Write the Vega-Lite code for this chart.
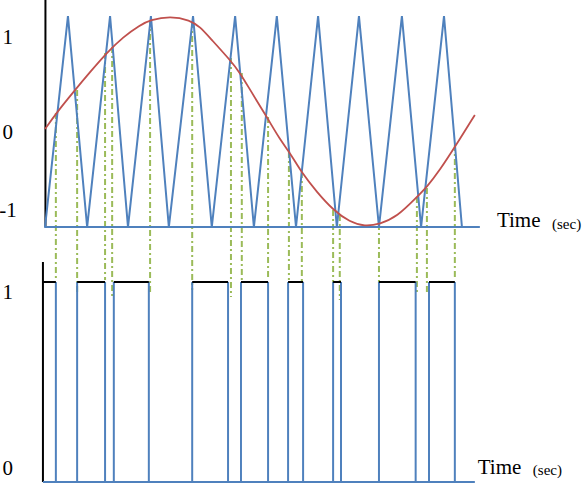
{
  "$schema": "https://vega.github.io/schema/vega-lite/v6.json",
  "width": 587,
  "height": 486,
  "padding": 0,
  "autosize": {"type": "none"},
  "config": {"view": {"stroke": null}},
  "background": "white",
  "datasets": {
    "topAxis": [{"t": 0.1, "a0": -1, "a1": 1.152}],
    "topBase": [{"t0": -0.2, "t1": 104.3, "a": -1}],
    "carrier": [
      {"t": 0, "a": -1}, {"t": 5.5, "a": 1}, {"t": 10.1, "a": -1}, {"t": 15.6, "a": 1},
      {"t": 19.9, "a": -1}, {"t": 25.4, "a": 1}, {"t": 29.7, "a": -1}, {"t": 35.5, "a": 1},
      {"t": 40.0, "a": -1}, {"t": 45.6, "a": 1}, {"t": 50.1, "a": -1}, {"t": 55.6, "a": 1},
      {"t": 60.2, "a": -1}, {"t": 65.5, "a": 1}, {"t": 70.0, "a": -1}, {"t": 75.3, "a": 1},
      {"t": 80.1, "a": -1}, {"t": 85.6, "a": 1}, {"t": 90.2, "a": -1}, {"t": 95.7, "a": 1},
      {"t": 100.0, "a": -1}
    ],
    "reference": [
      {"t": 0, "a": -0.071}, {"t": 2.9, "a": 0.09}, {"t": 6.7, "a": 0.275}, {"t": 10.8, "a": 0.469},
      {"t": 14.9, "a": 0.655}, {"t": 18.7, "a": 0.801}, {"t": 22.8, "a": 0.915}, {"t": 25.2, "a": 0.962},
      {"t": 30.0, "a": 1.0}, {"t": 34.8, "a": 0.962}, {"t": 37.2, "a": 0.896}, {"t": 39.6, "a": 0.791},
      {"t": 44.4, "a": 0.583}, {"t": 46.8, "a": 0.46}, {"t": 49.2, "a": 0.299}, {"t": 53.2, "a": 0.043},
      {"t": 56.4, "a": -0.175}, {"t": 58.8, "a": -0.299}, {"t": 61.6, "a": -0.488}, {"t": 65.2, "a": -0.668},
      {"t": 69.1, "a": -0.839}, {"t": 73.1, "a": -0.953}, {"t": 76.7, "a": -0.995}, {"t": 80.3, "a": -0.972},
      {"t": 84.4, "a": -0.905}, {"t": 89.2, "a": -0.716}, {"t": 91.6, "a": -0.621}, {"t": 94.7, "a": -0.46},
      {"t": 98.3, "a": -0.242}, {"t": 103.1, "a": 0.062}
    ],
    "dashes": [
      {"t": 2.6, "a": 0.081, "a_end": -1.502},
      {"t": 7.7, "a": 0.299, "a_end": -1.645},
      {"t": 14.4, "a": 0.649, "a_end": -1.502},
      {"t": 16.1, "a": 0.706, "a_end": -1.673},
      {"t": 25.2, "a": 0.962, "a_end": -1.645},
      {"t": 35.3, "a": 0.943, "a_end": -1.597},
      {"t": 44.6, "a": 0.602, "a_end": -1.664},
      {"t": 47.2, "a": 0.46, "a_end": -1.502},
      {"t": 53.5, "a": 0.043, "a_end": -1.474},
      {"t": 58.5, "a": -0.289, "a_end": -1.502},
      {"t": 61.6, "a": -0.479, "a_end": -1.521},
      {"t": 69.1, "a": -0.839, "a_end": -1.531},
      {"t": 70.7, "a": -0.886, "a_end": -1.692},
      {"t": 80.1, "a": -0.972, "a_end": -1.531},
      {"t": 89.2, "a": -0.716, "a_end": -1.645},
      {"t": 91.6, "a": -0.63, "a_end": -1.645},
      {"t": 98.3, "a": -0.223, "a_end": -1.502}
    ],
    "topLabels": [
      {"t": -10.2, "a": 0.791, "label": "1"},
      {"t": -10.2, "a": -0.109, "label": "0"},
      {"t": -11.0, "a": -0.848, "label": "-1"},
      {"t": 108.4, "a": -0.945, "label": "Time"}
    ],
    "topUnit": [{"t": 121.6, "a": -0.975, "label": "(sec)"}],
    "botAxis": [{"t": -0.5, "p0": 0, "p1": 1.1}],
    "botBase": [{"t0": -0.5, "t1": 103.1, "p": 0}],
    "edges": [
      {"t": 2.6}, {"t": 7.7}, {"t": 14.4}, {"t": 16.5}, {"t": 24.9}, {"t": 35.3},
      {"t": 43.9}, {"t": 47.0}, {"t": 53.5}, {"t": 58.3}, {"t": 61.9}, {"t": 69.1},
      {"t": 71.0}, {"t": 80.1}, {"t": 88.9}, {"t": 92.1}, {"t": 98.3}
    ],
    "highs": [
      {"t0": -0.5, "t1": 2.6}, {"t0": 7.7, "t1": 14.4}, {"t0": 16.5, "t1": 24.9},
      {"t0": 35.3, "t1": 43.9}, {"t0": 47.0, "t1": 53.5}, {"t0": 58.3, "t1": 61.9},
      {"t0": 69.1, "t1": 71.0}, {"t0": 80.1, "t1": 88.9}, {"t0": 92.1, "t1": 98.3}
    ],
    "botLabels": [
      {"t": -10.2, "p": 0.945, "label": "1"},
      {"t": -10.2, "p": 0.065, "label": "0"},
      {"t": 103.8, "p": 0.07, "label": "Time"}
    ],
    "botUnit": [{"t": 117.0, "p": 0.06, "label": "(sec)"}]
  },
  "encoding": {
    "x": {"field": "t", "type": "quantitative", "scale": {"domain": [-10.8, 130.0], "nice": false, "zero": false}, "axis": null}
  },
  "layer": [
    {
      "data": {"name": "topAxis"},
      "mark": {"type": "rule", "color": "#000000", "strokeWidth": 2},
      "encoding": {
        "y": {"field": "a0", "type": "quantitative", "scale": {"domain": [-3.455, 1.152], "nice": false, "zero": false}, "axis": null},
        "y2": {"field": "a1"}
      }
    },
    {
      "data": {"name": "dashes"},
      "mark": {"type": "rule", "color": "#9BBB59", "strokeWidth": 2, "strokeDash": [6, 3, 2, 3]},
      "encoding": {
        "y": {"field": "a", "type": "quantitative", "scale": {"domain": [-3.455, 1.152], "nice": false, "zero": false}, "axis": null},
        "y2": {"field": "a_end"}
      }
    },
    {
      "data": {"name": "carrier"},
      "mark": {"type": "line", "color": "#4F81BD", "strokeWidth": 2},
      "encoding": {
        "y": {"field": "a", "type": "quantitative", "scale": {"domain": [-3.455, 1.152], "nice": false, "zero": false}, "axis": null}
      }
    },
    {
      "data": {"name": "topBase"},
      "mark": {"type": "rule", "color": "#4F81BD", "strokeWidth": 2},
      "encoding": {
        "x": {"field": "t0", "type": "quantitative"},
        "x2": {"field": "t1"},
        "y": {"field": "a", "type": "quantitative", "scale": {"domain": [-3.455, 1.152], "nice": false, "zero": false}, "axis": null}
      }
    },
    {
      "data": {"name": "reference"},
      "mark": {"type": "line", "color": "#C0504D", "strokeWidth": 1.8, "interpolate": "basis"},
      "encoding": {
        "y": {"field": "a", "type": "quantitative", "scale": {"domain": [-3.455, 1.152], "nice": false, "zero": false}, "axis": null}
      }
    },
    {
      "data": {"name": "topLabels"},
      "mark": {"type": "text", "font": "Liberation Serif, DejaVu Serif, serif", "fontSize": 21, "align": "left", "baseline": "middle", "color": "#000000"},
      "encoding": {
        "y": {"field": "a", "type": "quantitative", "scale": {"domain": [-3.455, 1.152], "nice": false, "zero": false}, "axis": null},
        "text": {"field": "label"}
      }
    },
    {
      "data": {"name": "topUnit"},
      "mark": {"type": "text", "font": "Liberation Serif, DejaVu Serif, serif", "fontSize": 15, "align": "left", "baseline": "middle", "color": "#000000"},
      "encoding": {
        "y": {"field": "a", "type": "quantitative", "scale": {"domain": [-3.455, 1.152], "nice": false, "zero": false}, "axis": null},
        "text": {"field": "label"}
      }
    },
    {
      "data": {"name": "botAxis"},
      "mark": {"type": "rule", "color": "#000000", "strokeWidth": 2},
      "encoding": {
        "y": {"field": "p0", "type": "quantitative", "scale": {"domain": [-0.02, 2.41], "nice": false, "zero": false}, "axis": null},
        "y2": {"field": "p1"}
      }
    },
    {
      "data": {"name": "botBase"},
      "mark": {"type": "rule", "color": "#4F81BD", "strokeWidth": 2},
      "encoding": {
        "x": {"field": "t0", "type": "quantitative"},
        "x2": {"field": "t1"},
        "y": {"field": "p", "type": "quantitative", "scale": {"domain": [-0.02, 2.41], "nice": false, "zero": false}, "axis": null}
      }
    },
    {
      "data": {"name": "edges"},
      "mark": {"type": "rule", "color": "#4F81BD", "strokeWidth": 2},
      "encoding": {
        "y": {"datum": 0, "type": "quantitative", "scale": {"domain": [-0.02, 2.41], "nice": false, "zero": false}, "axis": null},
        "y2": {"datum": 1}
      }
    },
    {
      "data": {"name": "highs"},
      "mark": {"type": "rule", "color": "#000000", "strokeWidth": 2},
      "encoding": {
        "x": {"field": "t0", "type": "quantitative"},
        "x2": {"field": "t1"},
        "y": {"datum": 1, "type": "quantitative", "scale": {"domain": [-0.02, 2.41], "nice": false, "zero": false}, "axis": null}
      }
    },
    {
      "data": {"name": "botLabels"},
      "mark": {"type": "text", "font": "Liberation Serif, DejaVu Serif, serif", "fontSize": 21, "align": "left", "baseline": "middle", "color": "#000000"},
      "encoding": {
        "y": {"field": "p", "type": "quantitative", "scale": {"domain": [-0.02, 2.41], "nice": false, "zero": false}, "axis": null},
        "text": {"field": "label"}
      }
    },
    {
      "data": {"name": "botUnit"},
      "mark": {"type": "text", "font": "Liberation Serif, DejaVu Serif, serif", "fontSize": 15, "align": "left", "baseline": "middle", "color": "#000000"},
      "encoding": {
        "y": {"field": "p", "type": "quantitative", "scale": {"domain": [-0.02, 2.41], "nice": false, "zero": false}, "axis": null},
        "text": {"field": "label"}
      }
    }
  ],
  "resolve": {"scale": {"y": "independent"}}
}
